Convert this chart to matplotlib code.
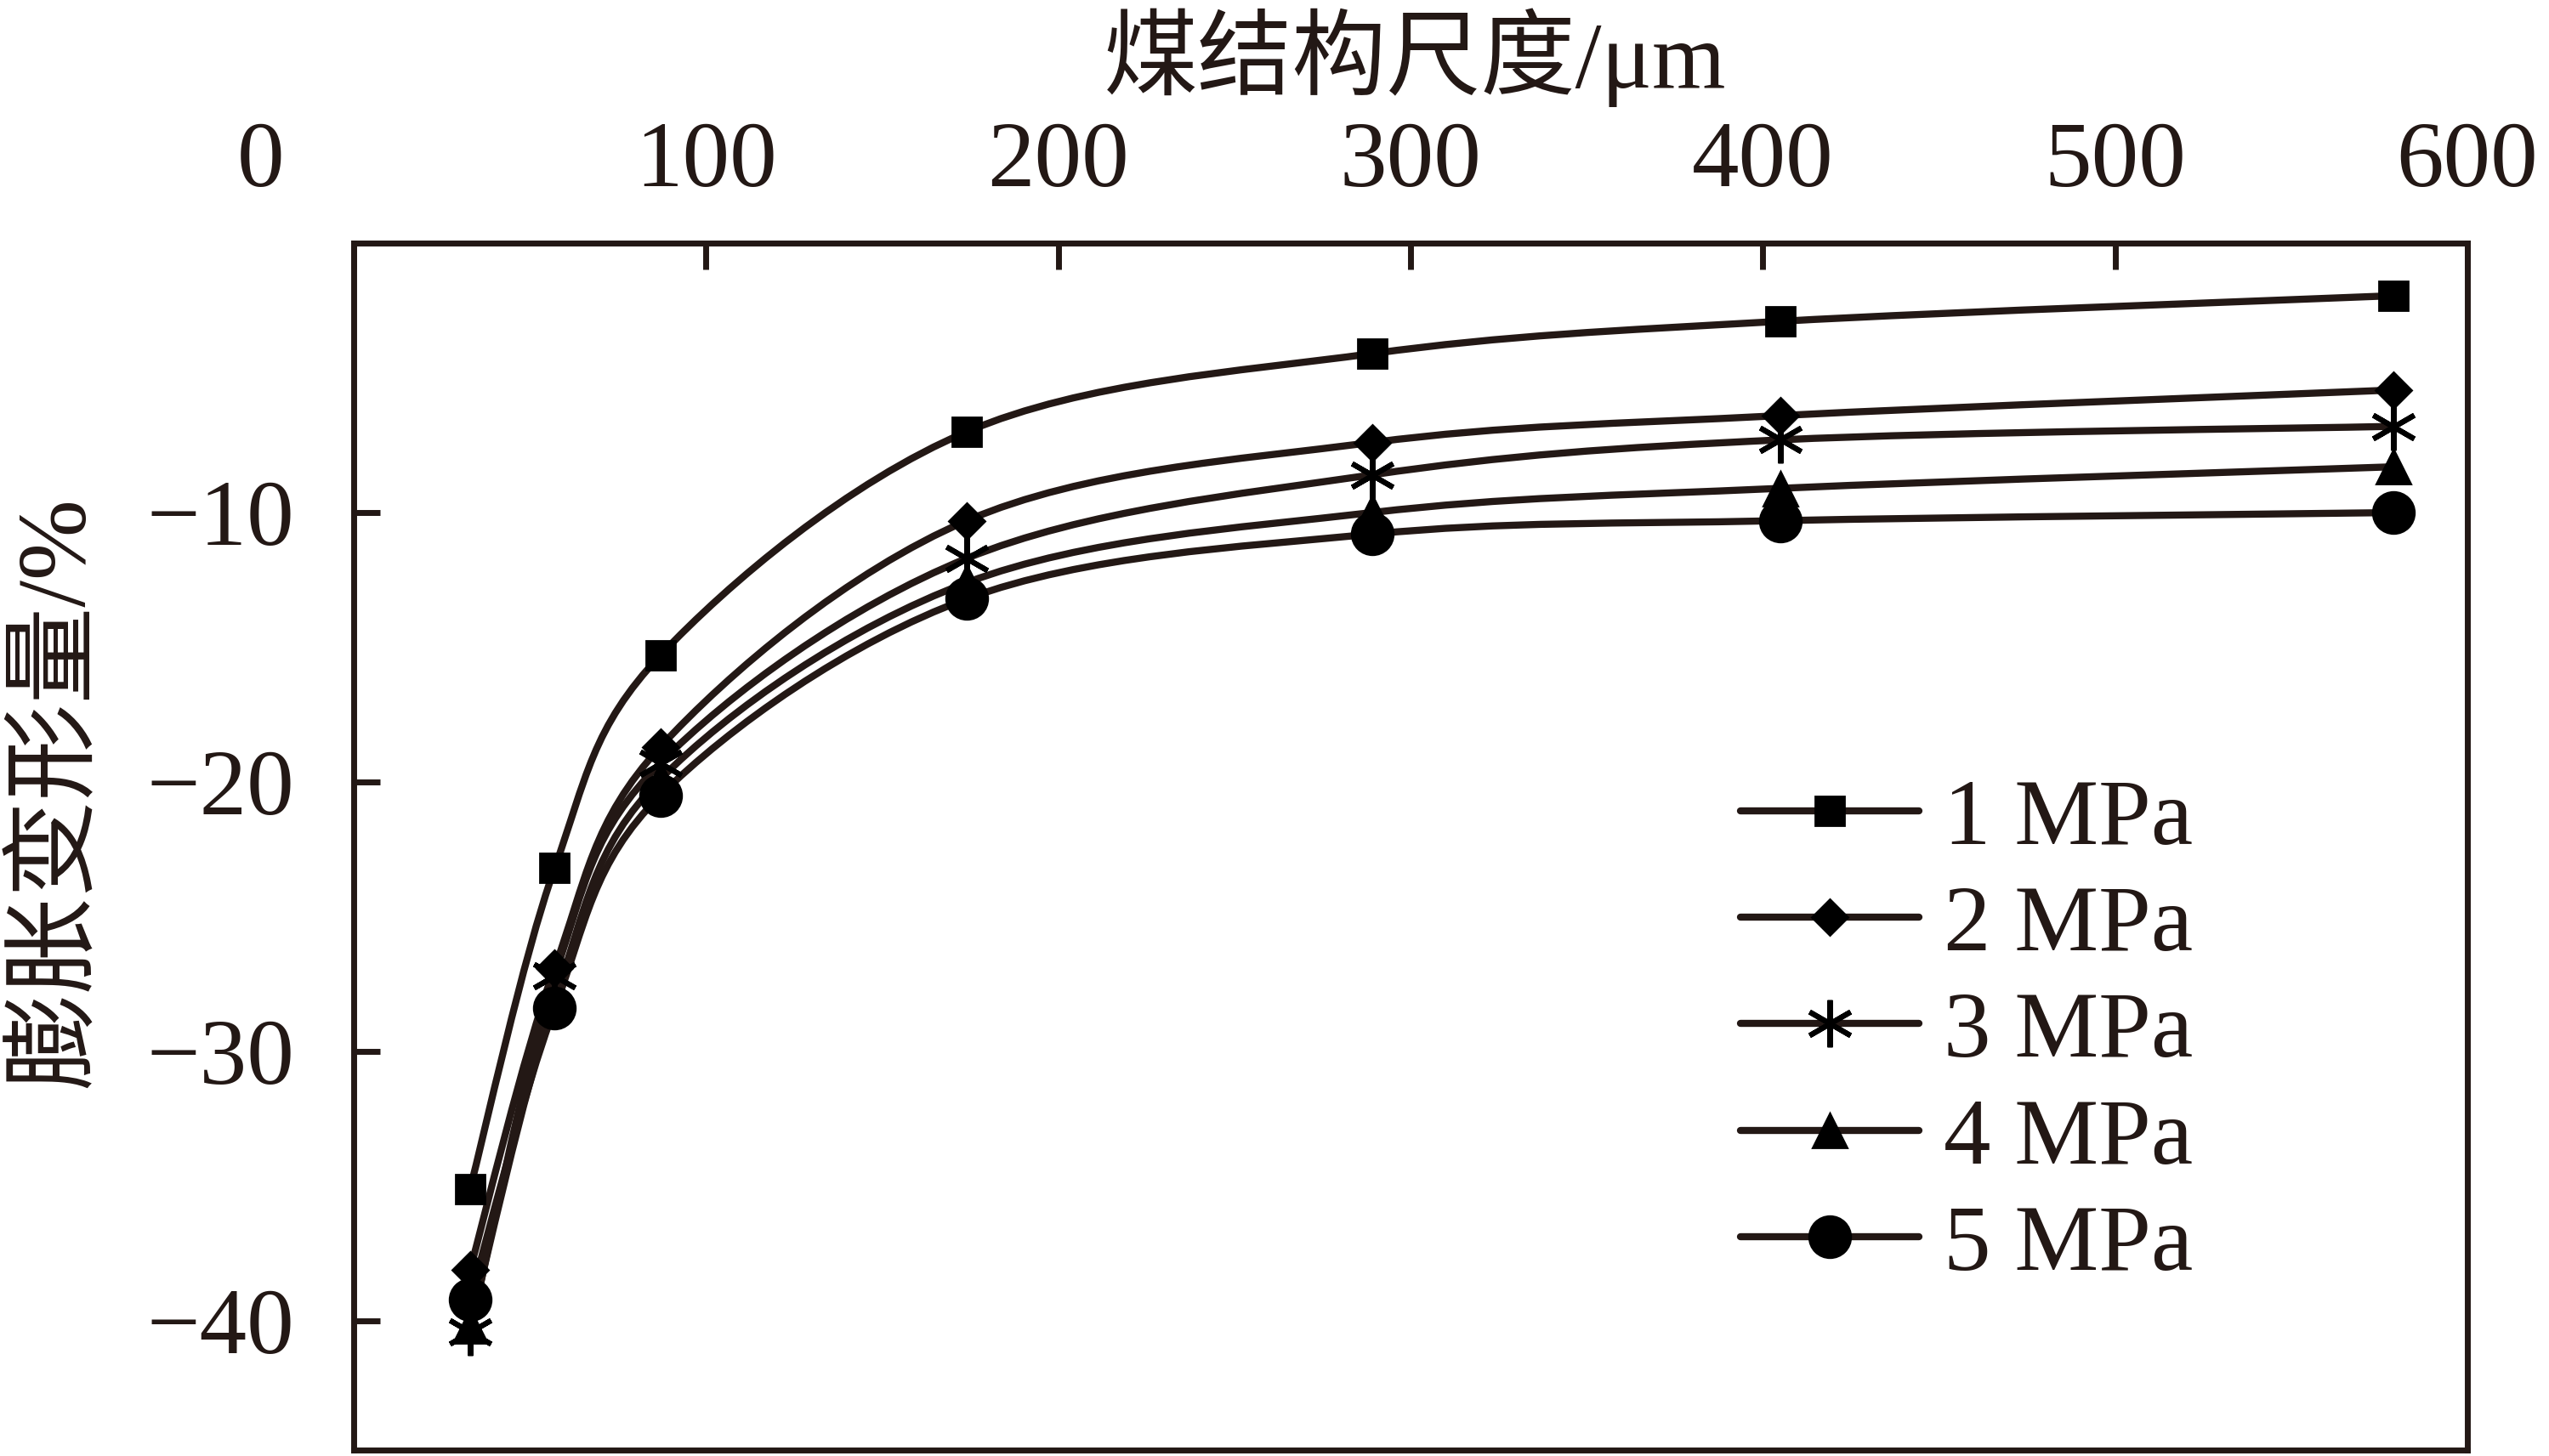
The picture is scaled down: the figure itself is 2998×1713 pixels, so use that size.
import matplotlib
matplotlib.use("Agg")
import matplotlib.pyplot as plt
from matplotlib.path import Path
from matplotlib.patches import PathPatch
from matplotlib.lines import Line2D
from matplotlib.transforms import ScaledTranslation

plt.rcParams["font.family"] = ["Liberation Serif", "Noto Sans CJK SC"]
plt.rcParams["axes.unicode_minus"] = True

# 煤结构尺度 (μm) and 膨胀变形量 (%)
scale_um = [33, 57, 87, 174, 289, 405, 579]
swell_1mpa = [-35.1, -23.2, -15.3, -7.0, -4.1, -2.9, -1.95]
swell_2mpa = [-38.1, -26.9, -18.7, -10.3, -7.4, -6.4, -5.45]
swell_3mpa = [-40.4, -27.2, -19.3, -11.7, -8.6, -7.3, -6.8]
swell_4mpa = [-40.2, -28.1, -19.9, -12.6, -10.0, -9.1, -8.3]
swell_5mpa = [-39.2, -28.4, -20.5, -13.2, -10.8, -10.3, -10.0]

series_labels = ["1 MPa", "2 MPa", "3 MPa", "4 MPa", "5 MPa"]
x_ticks = [0, 100, 200, 300, 400, 500, 600]
x_tick_labels = ["0", "100", "200", "300", "400", "500", "600"]
y_ticks = [-10, -20, -30, -40]
y_tick_labels = ["\u221210", "\u221220", "\u221230", "\u221240"]

LINE_COLOR = "#231815"
FS = 40
LW = 3.0


def smooth_path(xs, ys):
    # Excel-like smoothed line: Catmull-Rom segments as cubic Bezier curves
    pts = list(zip(xs, ys))
    verts = [pts[0]]
    codes = [Path.MOVETO]
    n = len(pts)
    for i in range(n - 1):
        p0 = pts[max(i - 1, 0)]
        p1 = pts[i]
        p2 = pts[i + 1]
        p3 = pts[min(i + 2, n - 1)]
        c1 = (p1[0] + (p2[0] - p0[0]) / 6, p1[1] + (p2[1] - p0[1]) / 6)
        c2 = (p2[0] - (p3[0] - p1[0]) / 6, p2[1] - (p3[1] - p1[1]) / 6)
        verts += [c1, c2, p2]
        codes += [Path.CURVE4] * 3
    return Path(verts, codes)


fig = plt.figure(figsize=(14.99, 8.565), dpi=200)
ax = fig.add_axes([0.1388, 0.004, 0.8292, 0.829])

all_series = [swell_1mpa, swell_2mpa, swell_3mpa, swell_4mpa, swell_5mpa]
marker_styles = [
    dict(marker="s", ms=12.5),
    dict(marker="D", ms=10.5),
    dict(marker=(6, 2, 0), ms=20, mew=2.2),
    dict(marker="^", ms=14.5),
    dict(marker="o", ms=17.5),
]

handles = []
for ys, mstyle, label in zip(all_series, marker_styles, series_labels):
    patch = PathPatch(smooth_path(scale_um, ys), facecolor="none",
                      edgecolor=LINE_COLOR, lw=LW, zorder=2)
    ax.add_patch(patch)
    ax.plot(scale_um, ys, linestyle="none", color="black", mfc="black",
            mec="black", zorder=3, **mstyle)
    handles.append(Line2D([], [], color=LINE_COLOR, lw=LW,
                          solid_capstyle="round", mfc="black", mec="black",
                          **mstyle))

ax.set_xlim(0, 600)
ax.set_ylim(-44.8, 0)

ax.xaxis.tick_top()
ax.set_xticks(x_ticks)
ax.set_xticklabels(x_tick_labels)
ax.set_yticks(y_ticks)
ax.set_yticklabels(y_tick_labels)
ax.tick_params(axis="x", direction="in", length=11, width=2.5,
               color=LINE_COLOR, labelsize=FS, pad=16, top=True, bottom=False)
ax.tick_params(axis="y", direction="in", length=11, width=2.5,
               color=LINE_COLOR, labelsize=FS, pad=25)
for lbl in ax.get_xticklabels() + ax.get_yticklabels():
    lbl.set_color(LINE_COLOR)

# the "0" label sits left of the corner in the original
zero = ax.get_xticklabels()[0]
zero.set_transform(zero.get_transform()
                   + ScaledTranslation(-0.55, 0, fig.dpi_scale_trans))

for spine in ax.spines.values():
    spine.set_linewidth(2.5)
    spine.set_color(LINE_COLOR)

ax.text(0.502, 1.154, "煤结构尺度/μm", transform=ax.transAxes,
        ha="center", va="center", fontsize=FS, color=LINE_COLOR)
ax.text(-0.140, 0.545, "膨胀变形量/%", transform=ax.transAxes,
        ha="center", va="center", rotation=90, fontsize=41, color=LINE_COLOR)

ax.legend(handles=handles, labels=series_labels, loc="upper left",
          bbox_to_anchor=(0.656, 0.557), frameon=False, fontsize=FS,
          handlelength=1.89, handletextpad=0.26, labelspacing=0.22,
          borderpad=0, borderaxespad=0, labelcolor=LINE_COLOR)

fig.savefig("out.png", dpi=200)
